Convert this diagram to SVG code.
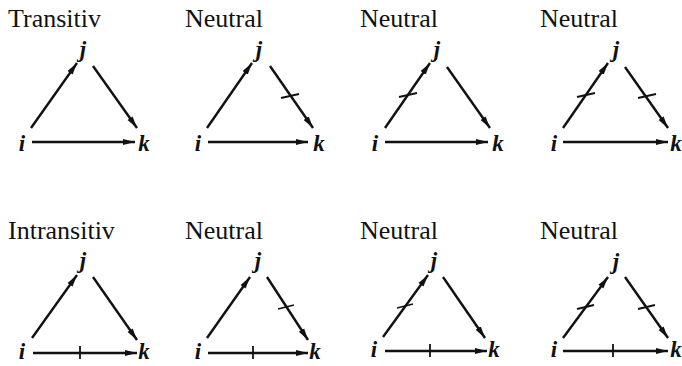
<svg xmlns="http://www.w3.org/2000/svg" width="682" height="366" viewBox="0 0 682 366">
<defs>
<marker id="ah" markerUnits="userSpaceOnUse" markerWidth="14" markerHeight="8" refX="12" refY="4" orient="auto">
<path d="M0,0.9 L12,4 L0,7.1 z" fill="#111"/>
</marker>
</defs>
<style>
.title{font-family:"Liberation Serif","Times New Roman",serif;font-size:26px;fill:#111}
.lbl{font-family:"Liberation Serif","Times New Roman",serif;font-size:23px;font-style:italic;font-weight:bold;fill:#111;text-anchor:middle}
.arr{stroke:#111;stroke-width:2.4;fill:none;marker-end:url(#ah)}
.tick{stroke:#111;stroke-width:1.8;fill:none}
</style>
<rect width="682" height="366" fill="#fff"/>

<!-- Panel 1: Transitiv -->
<g id="p1" transform="translate(0,0)">
<text class="title" x="8" y="27">Transitiv</text>
<g id="p1-j"><text class="lbl" x="83" y="57">j</text></g>
<g id="p1-i"><text class="lbl" x="22" y="151">i</text></g>
<g id="p1-k"><text class="lbl" x="144" y="151">k</text></g>
<g id="p1-edges">
<line class="arr" x1="31" y1="128" x2="77" y2="63"/>
<line class="arr" x1="93" y1="66" x2="137" y2="128"/>
<line class="arr" x1="32" y1="142" x2="135" y2="142"/>
</g>
</g>

<!-- Panel 2 -->
<g id="p2" transform="translate(176,0)">
<text class="title" x="9" y="27">Neutral</text>
<g id="p2-j"><text class="lbl" x="83" y="57">j</text></g>
<g id="p2-i"><text class="lbl" x="22" y="151">i</text></g>
<g id="p2-k"><text class="lbl" x="143" y="151">k</text></g>
<g id="p2-edges">
<line class="arr" x1="31" y1="128" x2="76" y2="63"/>
<line class="arr" x1="94" y1="66" x2="137" y2="128"/>
<line class="arr" x1="32" y1="142" x2="132" y2="142"/>
<line class="tick" x1="105" y1="98" x2="123" y2="94"/>
</g>
</g>

<!-- Panel 3 -->
<g id="p3" transform="translate(354,0)">
<text class="title" x="6" y="27">Neutral</text>
<g id="p3-j"><text class="lbl" x="83" y="57">j</text></g>
<g id="p3-i"><text class="lbl" x="21" y="151">i</text></g>
<g id="p3-k"><text class="lbl" x="144" y="151">k</text></g>
<g id="p3-edges">
<line class="arr" x1="31" y1="128" x2="76" y2="63"/>
<line class="arr" x1="93" y1="67" x2="136" y2="128"/>
<line class="arr" x1="31" y1="142" x2="134" y2="142"/>
<line class="tick" x1="45" y1="97" x2="63" y2="93"/>
</g>
</g>

<!-- Panel 4 -->
<g id="p4" transform="translate(532,0)">
<text class="title" x="8" y="27">Neutral</text>
<g id="p4-j"><text class="lbl" x="84" y="57">j</text></g>
<g id="p4-i"><text class="lbl" x="22" y="151">i</text></g>
<g id="p4-k"><text class="lbl" x="144" y="151">k</text></g>
<g id="p4-edges">
<line class="arr" x1="31" y1="128" x2="76" y2="63"/>
<line class="arr" x1="93" y1="67" x2="136" y2="128"/>
<line class="arr" x1="31" y1="142" x2="136" y2="142"/>
<line class="tick" x1="45" y1="97" x2="63" y2="93"/>
<line class="tick" x1="106" y1="98" x2="124" y2="94"/>
</g>
</g>

<!-- Panel 5: Intransitiv -->
<g id="p5" transform="translate(0,211)">
<text class="title" x="8" y="28">Intransitiv</text>
<g id="p5-j"><text class="lbl" x="83" y="57">j</text></g>
<g id="p5-i"><text class="lbl" x="22" y="148">i</text></g>
<g id="p5-k"><text class="lbl" x="144" y="148">k</text></g>
<g id="p5-edges">
<line class="arr" x1="32" y1="127" x2="77" y2="64"/>
<line class="arr" x1="93" y1="66" x2="137" y2="129"/>
<line class="arr" x1="33" y1="142" x2="137" y2="142"/>
<line class="tick" x1="80" y1="135" x2="80" y2="148"/>
</g>
</g>

<!-- Panel 6 -->
<g id="p6" transform="translate(176,211)">
<text class="title" x="9" y="28">Neutral</text>
<g id="p6-j"><text class="lbl" x="82" y="57">j</text></g>
<g id="p6-i"><text class="lbl" x="22" y="148">i</text></g>
<g id="p6-k"><text class="lbl" x="139" y="148">k</text></g>
<g id="p6-edges">
<line class="arr" x1="31" y1="127" x2="74" y2="66"/>
<line class="arr" x1="91" y1="66" x2="132" y2="129"/>
<line class="arr" x1="32" y1="142" x2="132" y2="142"/>
<line class="tick" x1="102" y1="98" x2="118" y2="94"/>
<line class="tick" x1="77" y1="135" x2="77" y2="148"/>
</g>
</g>

<!-- Panel 7 -->
<g id="p7" transform="translate(352,211)">
<text class="title" x="8" y="28">Neutral</text>
<g id="p7-j"><text class="lbl" x="82" y="57">j</text></g>
<g id="p7-i"><text class="lbl" x="22" y="146">i</text></g>
<g id="p7-k"><text class="lbl" x="142" y="146">k</text></g>
<g id="p7-edges">
<line class="arr" x1="31" y1="126" x2="76" y2="64"/>
<line class="arr" x1="91" y1="66" x2="133" y2="127"/>
<line class="arr" x1="33" y1="140" x2="135" y2="140"/>
<line class="tick" x1="45" y1="97" x2="61" y2="93"/>
<line class="tick" x1="78" y1="133" x2="78" y2="146"/>
</g>
</g>

<!-- Panel 8 -->
<g id="p8" transform="translate(532,211)">
<text class="title" x="8" y="28">Neutral</text>
<g id="p8-j"><text class="lbl" x="84" y="58">j</text></g>
<g id="p8-i"><text class="lbl" x="22" y="146">i</text></g>
<g id="p8-k"><text class="lbl" x="144" y="146">k</text></g>
<g id="p8-edges">
<line class="arr" x1="31" y1="127" x2="76" y2="66"/>
<line class="arr" x1="93" y1="66" x2="136" y2="127"/>
<line class="arr" x1="31" y1="140" x2="136" y2="140"/>
<line class="tick" x1="45" y1="98" x2="62" y2="94"/>
<line class="tick" x1="106" y1="98" x2="123" y2="94"/>
<line class="tick" x1="81" y1="133" x2="81" y2="146"/>
</g>
</g>
</svg>
